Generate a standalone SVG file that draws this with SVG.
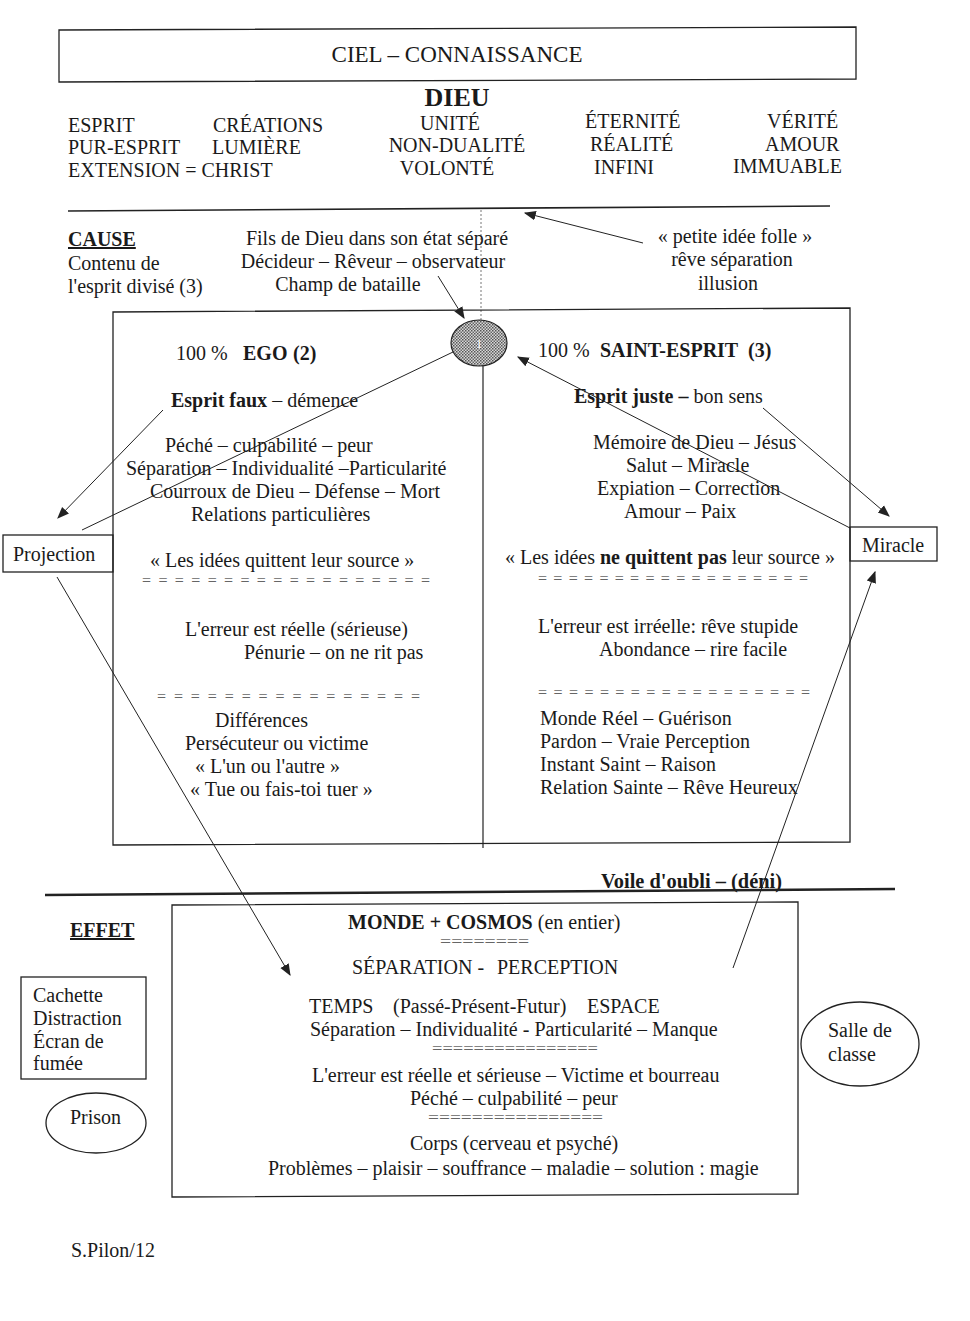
<svg xmlns="http://www.w3.org/2000/svg" width="970" height="1321" viewBox="0 0 970 1321">
<style>
text{font-family:"Liberation Serif","Times New Roman",serif;font-size:20px;fill:#1a1a1a}
.b{font-weight:bold}
.eq{fill:#666;font-size:16px}
.box{fill:none;stroke:#222;stroke-width:1.3}
.ln{stroke:#222;stroke-width:1;fill:none}
.ar{stroke:#222;stroke-width:1;fill:none;marker-end:url(#ah)}
</style>
<defs>
<marker id="ah" viewBox="0 0 10 10" refX="9" refY="5" markerWidth="12" markerHeight="12" markerUnits="userSpaceOnUse" orient="auto">
<path d="M0,1 L10,5 L0,9 z" fill="#222"/>
</marker>
<pattern id="dots" width="3" height="3" patternUnits="userSpaceOnUse">
<rect width="3" height="3" fill="#d8d8d8"/>
<rect width="1.5" height="1.5" fill="#555"/>
<rect x="1.5" y="1.5" width="1.5" height="1.5" fill="#666"/>
</pattern>
</defs>
<rect width="970" height="1321" fill="#fff"/>

<g id="ciel">
<polygon class="box" points="59,30 856,27 856,79 59,82"/>
<text x="457" y="62" text-anchor="middle" style="font-size:23px">CIEL – CONNAISSANCE</text>
</g>

<g id="dieu">
<text x="457" y="106" text-anchor="middle" class="b" style="font-size:26px">DIEU</text>
<text x="68" y="132">ESPRIT</text>
<text x="213" y="132">CRÉATIONS</text>
<text x="450" y="130" text-anchor="middle">UNITÉ</text>
<text x="585" y="128">ÉTERNITÉ</text>
<text x="767" y="128">VÉRITÉ</text>
<text x="68" y="154">PUR-ESPRIT</text>
<text x="212" y="154">LUMIÈRE</text>
<text x="457" y="152" text-anchor="middle">NON-DUALITÉ</text>
<text x="590" y="151">RÉALITÉ</text>
<text x="765" y="151">AMOUR</text>
<text x="68" y="177">EXTENSION = CHRIST</text>
<text x="447" y="175" text-anchor="middle">VOLONTÉ</text>
<text x="594" y="174">INFINI</text>
<text x="733" y="173">IMMUABLE</text>
</g>

<g id="separator">
<line x1="68" y1="211" x2="830" y2="206" stroke="#222" stroke-width="1.6"/>
<line x1="481" y1="210" x2="481" y2="320" stroke="#777" stroke-width="1" stroke-dasharray="2,2"/>
</g>

<g id="cause">
<text x="68" y="246" class="b" text-decoration="underline">CAUSE</text>
<text x="68" y="270">Contenu de</text>
<text x="68" y="293">l'esprit divisé (3)</text>
</g>

<g id="fils">
<text x="377" y="245" text-anchor="middle">Fils de Dieu dans son état séparé</text>
<text x="373" y="268" text-anchor="middle">Décideur – Rêveur – observateur</text>
<text x="348" y="291" text-anchor="middle">Champ de bataille</text>
</g>

<g id="petite-idee">
<text x="735" y="243" text-anchor="middle">« petite idée folle »</text>
<text x="732" y="266" text-anchor="middle">rêve séparation</text>
<text x="728" y="290" text-anchor="middle">illusion</text>
</g>

<g id="main-box">
<polygon class="box" points="113,312 850,308 850,842 113,845"/>
<line x1="483" y1="366" x2="483" y2="848" stroke="#222" stroke-width="1.2"/>
</g>

<g id="decideur">
<ellipse cx="479" cy="343" rx="28" ry="23" fill="url(#dots)" stroke="#222" stroke-width="1.2"/>
<text x="479" y="348" text-anchor="middle" style="font-size:12px;fill:#fff">1</text>
</g>

<g id="ego">
<text x="176" y="360">100 %</text>
<text x="243" y="360" class="b">EGO</text>
<text x="293" y="360" class="b">(2)</text>
<text x="171" y="407"><tspan class="b">Esprit faux</tspan> – démence</text>
<text x="165" y="452">Péché – culpabilité – peur</text>
<text x="126" y="475">Séparation – Individualité –Particularité</text>
<text x="150" y="498">Courroux de Dieu – Défense – Mort</text>
<text x="191" y="521">Relations particulières</text>
<text x="150" y="567">« Les idées quittent leur source »</text>
<text x="142" y="586" class="eq" textLength="288" lengthAdjust="spacing">==================</text>
<text x="185" y="636">L'erreur est réelle (sérieuse)</text>
<text x="244" y="659">Pénurie – on ne rit pas</text>
<text x="157" y="702" class="eq" textLength="263" lengthAdjust="spacing">================</text>
<text x="215" y="727">Différences</text>
<text x="185" y="750">Persécuteur ou victime</text>
<text x="195" y="773">« L'un ou l'autre »</text>
<text x="190" y="796">« Tue ou fais-toi tuer »</text>
</g>

<g id="saint-esprit">
<text x="538" y="357">100 %</text>
<text x="600" y="357" class="b">SAINT-ESPRIT</text>
<text x="748" y="357" class="b">(3)</text>
<text x="574" y="403"><tspan class="b">Esprit juste –</tspan> bon sens</text>
<text x="593" y="449">Mémoire de Dieu – Jésus</text>
<text x="626" y="472">Salut – Miracle</text>
<text x="597" y="495">Expiation – Correction</text>
<text x="624" y="518">Amour – Paix</text>
<text x="505" y="564">« Les idées <tspan class="b">ne quittent pas</tspan> leur source »</text>
<text x="538" y="584" class="eq" textLength="270" lengthAdjust="spacing">==================</text>
<text x="538" y="633">L'erreur est irréelle: rêve stupide</text>
<text x="599" y="656">Abondance – rire facile</text>
<text x="538" y="698" class="eq" textLength="272" lengthAdjust="spacing">==================</text>
<text x="540" y="725">Monde Réel – Guérison</text>
<text x="540" y="748">Pardon – Vraie Perception</text>
<text x="540" y="771">Instant Saint – Raison</text>
<text x="540" y="794">Relation Sainte – Rêve Heureux</text>
</g>

<g id="projection">
<rect class="box" x="3" y="535" width="110" height="37"/>
<text x="13" y="561">Projection</text>
</g>

<g id="miracle">
<rect class="box" x="850" y="527" width="87" height="34"/>
<text x="862" y="552">Miracle</text>
</g>

<g id="voile">
<text x="601" y="888" class="b" textLength="181" lengthAdjust="spacingAndGlyphs">Voile d'oubli – (déni)</text>
<line x1="45" y1="895" x2="895" y2="889" stroke="#222" stroke-width="2.5"/>
</g>

<g id="effet">
<text x="70" y="937" class="b" text-decoration="underline">EFFET</text>
</g>

<g id="monde">
<polygon class="box" points="172,905 798,902 798,1194 172,1197"/>
<text x="348" y="929"><tspan class="b">MONDE + COSMOS</tspan> (en entier)</text>
<text x="440" y="947" class="eq" textLength="89" lengthAdjust="spacingAndGlyphs">========</text>
<text x="352" y="974">SÉPARATION -</text>
<text x="497" y="974">PERCEPTION</text>
<text x="309" y="1013">TEMPS</text>
<text x="393" y="1013">(Passé-Présent-Futur)</text>
<text x="587" y="1013">ESPACE</text>
<text x="310" y="1036">Séparation – Individualité - Particularité – Manque</text>
<text x="432" y="1054" class="eq" textLength="166" lengthAdjust="spacingAndGlyphs">================</text>
<text x="312" y="1082">L'erreur est réelle et sérieuse – Victime et bourreau</text>
<text x="410" y="1105">Péché – culpabilité – peur</text>
<text x="428" y="1123" class="eq" textLength="175" lengthAdjust="spacingAndGlyphs">================</text>
<text x="410" y="1150">Corps (cerveau et psyché)</text>
<text x="268" y="1175">Problèmes – plaisir – souffrance – maladie – solution : magie</text>
</g>

<g id="cachette">
<rect class="box" x="21" y="977" width="125" height="102"/>
<text x="33" y="1002">Cachette</text>
<text x="33" y="1025">Distraction</text>
<text x="33" y="1048">Écran de</text>
<text x="33" y="1070">fumée</text>
</g>

<g id="prison">
<ellipse cx="96" cy="1123" rx="50" ry="30" class="box"/>
<text x="70" y="1124">Prison</text>
</g>

<g id="salle">
<ellipse cx="860" cy="1044" rx="59" ry="42" class="box"/>
<text x="828" y="1037">Salle de</text>
<text x="828" y="1061">classe</text>
</g>

<g id="signature">
<text x="71" y="1257">S.Pilon/12</text>
</g>

<g id="connectors">
<line class="ar" x1="643" y1="243" x2="525" y2="213"/>
<line class="ar" x1="438" y1="276" x2="464" y2="318"/>
<line class="ln" x1="82" y1="530" x2="453" y2="352"/>
<line class="ar" x1="163" y1="410" x2="58" y2="518"/>
<line class="ar" x1="850" y1="528" x2="518" y2="357"/>
<line class="ar" x1="763" y1="408" x2="889" y2="516"/>
<line class="ar" x1="57" y1="577" x2="290" y2="975"/>
<line class="ar" x1="733" y1="968" x2="875" y2="572"/>
</g>
</svg>
